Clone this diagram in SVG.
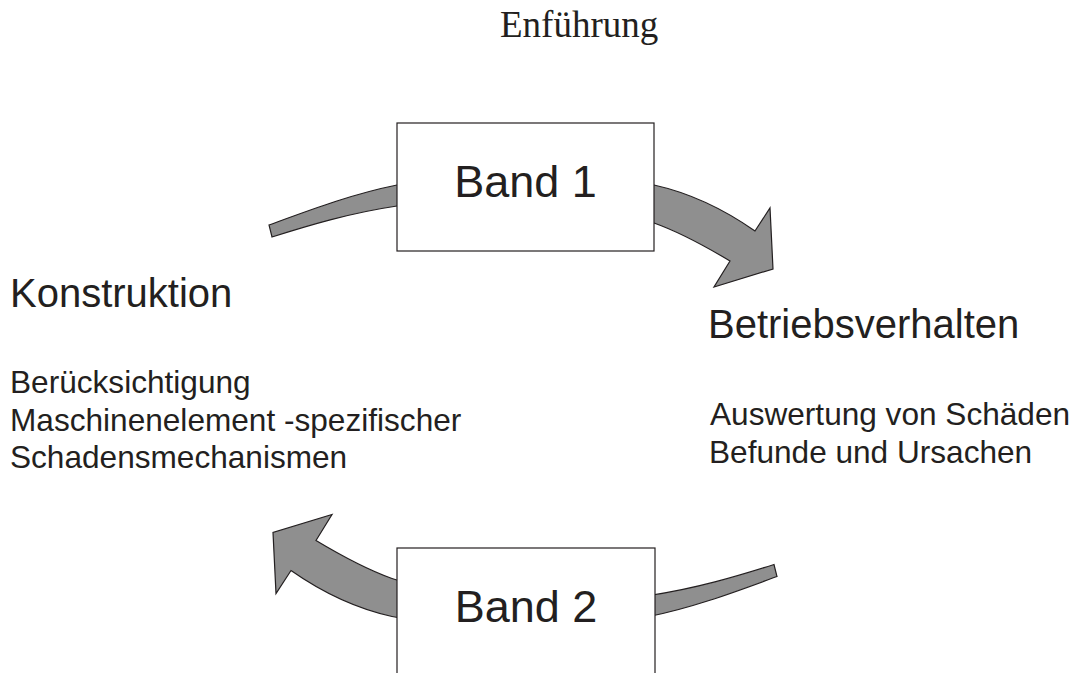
<svg xmlns="http://www.w3.org/2000/svg" xmlns:xlink="http://www.w3.org/1999/xlink" width="1071" height="673" viewBox="0 0 1071 673">
<style>
.arrow{fill:#8f8f8f;stroke:#231f20;stroke-width:1.2;stroke-linejoin:miter}
.box{fill:#ffffff;stroke:#231f20;stroke-width:1.2}
.sans{font-family:"Liberation Sans",Arial,sans-serif;fill:#231f20}
.serif{font-family:"Liberation Serif","Times New Roman",serif;fill:#231f20}
.band{font-size:45px}
.head{font-size:40px}
.body{font-size:31.6px}
</style>
<defs>
<path id="bigArrow" d="M269,225 C310,210 352,194 397,185 C480,168 580,170 654,185 C690,193 725,210 755,231 L770,208 L773,269 L714,287 L730,261 C705,246 682,233 654,223 C580,198 470,195 397,206 C350,213 310,225 272,237 Z"/>
</defs>
<rect width="1071" height="673" fill="#ffffff"/>
<text id="title" class="serif" x="500" y="37" font-size="37">Enführung</text>
<g id="connectors">
<use xlink:href="#bigArrow" href="#bigArrow" class="arrow"/>
<use xlink:href="#bigArrow" href="#bigArrow" class="arrow" transform="rotate(180 523 400.75)"/>
</g>
<g id="band1">
<rect class="box" x="397" y="123" width="257" height="128"/>
<text class="sans band" x="525.5" y="197" text-anchor="middle">Band 1</text>
</g>
<g id="band2">
<rect class="box" x="397" y="548" width="258" height="130"/>
<text class="sans band" x="526" y="622" text-anchor="middle">Band 2</text>
</g>
<g id="konstruktion">
<text class="sans head" x="10" y="307">Konstruktion</text>
<text class="sans body" x="10" y="393">Berücksichtigung</text>
<text class="sans body" x="10" y="431">Maschinenelement -spezifischer</text>
<text class="sans body" x="10" y="468">Schadensmechanismen</text>
</g>
<g id="betriebsverhalten">
<text class="sans head" x="708" y="338">Betriebsverhalten</text>
<text class="sans body" x="710" y="425">Auswertung von Schäden</text>
<text class="sans body" x="709" y="463">Befunde und Ursachen</text>
</g>
</svg>
